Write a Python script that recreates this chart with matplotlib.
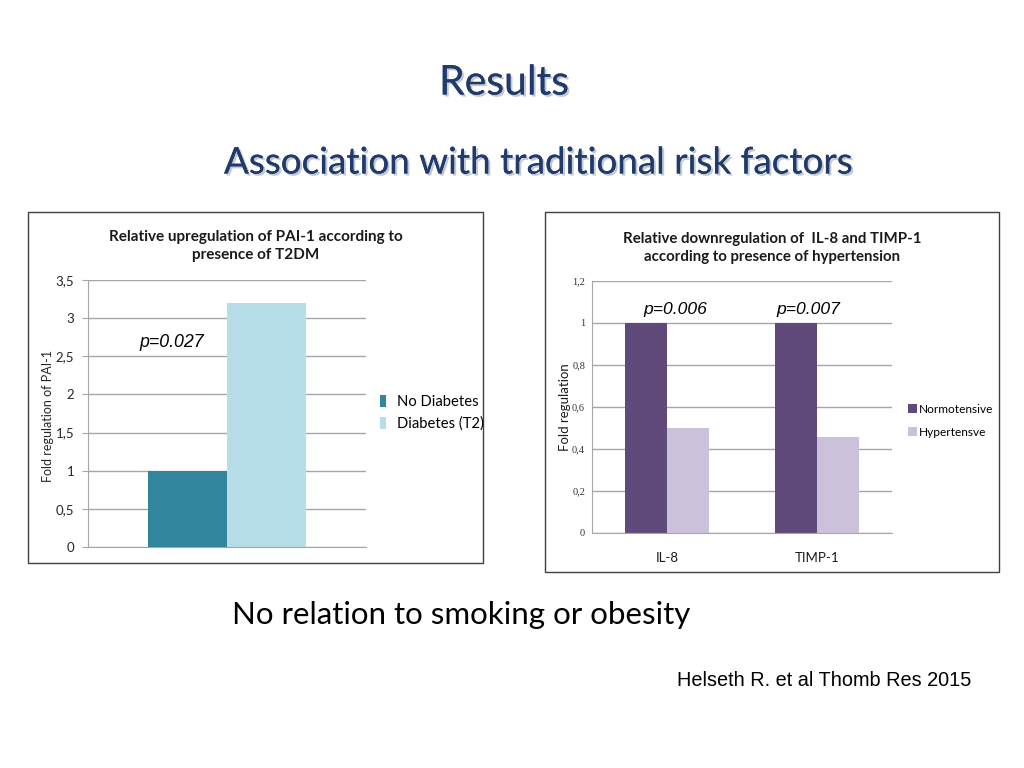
'''
Results slide: two bar charts of fold regulation
'''

###########################################
import numpy as np
import matplotlib
matplotlib.use('Agg')
import matplotlib.pyplot as plt
import matplotlib.patheffects as pe
from matplotlib.patches import Rectangle, Patch


###########################################
# data

paiGroups=['No Diabetes','Diabetes (T2)']
paiVals=[1.0,3.2]
paiCols=['#31859C','#B7DEE8']
paiP='p=0.027'

htCats=['IL-8','TIMP-1']
htGroups=['Normotensive','Hypertensve']
htNorm=[1.0,1.0]
htHyper=[0.5,0.455]
htCols=['#604A7B','#CCC1DA']
htP=['p=0.006','p=0.007']

W,H=1024.,768.


###########################################
# pixel rect to figure fraction

def frac(x0,y0,x1,y1):
  return [x0/W,1-y1/H,(x1-x0)/W,(y1-y0)/H]


###########################################
# common axis styling

def styleAx(ax,ymax,step):
  for s in ['top','right']:
    ax.spines[s].set_visible(False)
  for s in ['left','bottom']:
    ax.spines[s].set_color('#A6A6A6')
  ax.set_ylim(0,ymax)
  ax.set_yticks(np.arange(0,ymax+step/2,step))
  ax.yaxis.grid(True,color='#A6A6A6',lw=1)
  ax.set_axisbelow(True)
  ax.tick_params(axis='y',length=4,color='#A6A6A6',pad=6)
  ax.tick_params(axis='x',length=0)


###########################################
# the main block

if __name__ == '__main__':
  fig=plt.figure(figsize=(10.24,7.68),dpi=100)
  fig.patch.set_facecolor('white')

  # slide titles
  shadow=[pe.withSimplePatchShadow(offset=(1.5,-1.5),shadow_rgbFace='#9aa6b8',alpha=0.6),pe.Normal()]
  fig.text(504/W,1-83/H,'Results',ha='center',va='center',fontsize=29.5,family='Lato',color='#1F3A6B',path_effects=shadow)
  fig.text(538/W,1-163/H,'Association with traditional risk factors',ha='center',va='center',fontsize=26.5,family='Lato',color='#1F3A6B',path_effects=shadow)
  fig.text(232/W,1-615/H,'No relation to smoking or obesity',ha='left',va='center',fontsize=22.5,family='Lato',color='black')
  fig.text(677/W,1-681/H,'Helseth R. et al Thomb Res 2015',ha='left',va='center',fontsize=14.3,family='Liberation Sans',color='black')

  # boxes round the charts
  fig.patches.append(Rectangle((28/W,1-563/H),455/W,351/H,transform=fig.transFigure,fill=False,edgecolor='#404040',lw=1))
  fig.patches.append(Rectangle((545/W,1-572/H),454/W,360/H,transform=fig.transFigure,fill=False,edgecolor='#404040',lw=1))

  ###########################################
  # left chart: PAI-1
  ax1=fig.add_axes(frac(88,280,366,547))
  styleAx(ax1,3.5,0.5)
  bw=0.284
  for i in range(len(paiVals)):
    ax1.bar((i-0.5)*bw,paiVals[i],width=bw,color=paiCols[i],label=paiGroups[i])
  ax1.set_xlim(-0.5,0.5)
  ax1.set_xticks([])
  ax1.set_yticklabels([('%g'%v).replace('.',',') for v in np.arange(0,3.75,0.5)],fontsize=9.5,family='Lato',color='#262626')
  ax1.set_ylabel('Fold regulation of PAI-1',fontsize=9,family='Lato',color='#262626')
  ax1.yaxis.set_label_coords(-0.122,0.49)
  ax1.text(-0.2,2.68,paiP,ha='center',va='center',fontsize=12.8,style='italic',family='Liberation Sans')
  fig.text(256/W,1-246/H,'Relative upregulation of PAI-1 according to\npresence of T2DM',ha='center',va='center',fontsize=11,weight='bold',family='Lato',linespacing=1.4,color='#1a1a1a')
  h1=[Patch(facecolor=c,edgecolor='none') for c in paiCols]
  fig.legend(h1,paiGroups,loc='center left',bbox_to_anchor=(373/W,1-413/H),frameon=False,prop={'family':'Lato','size':10.6},handlelength=0.35,handleheight=0.9,handletextpad=0.75,labelspacing=0.5,borderpad=0)

  ###########################################
  # right chart: IL-8 and TIMP-1
  ax2=fig.add_axes(frac(592,281,892,533))
  styleAx(ax2,1.2,0.2)
  ax2.tick_params(axis='y',length=0,pad=5)
  x=np.arange(len(htCats))
  bw=0.28
  ax2.bar(x-bw/2,htNorm,width=bw,color=htCols[0],label=htGroups[0])
  ax2.bar(x+bw/2,htHyper,width=bw,color=htCols[1],label=htGroups[1])
  ax2.set_xlim(-0.5,1.5)
  ax2.set_xticks(x)
  ax2.set_xticklabels(htCats,fontsize=9.5,family='Lato',color='#1a1a1a')
  ax2.tick_params(axis='x',pad=14)
  ax2.set_yticklabels([('%g'%round(v,1)).replace('.',',') for v in np.arange(0,1.3,0.2)],fontsize=7.5,family='Liberation Serif',color='#333333')
  ax2.set_ylabel('Fold regulation',fontsize=9.5,family='Lato',color='#1a1a1a')
  ax2.yaxis.set_label_coords(-0.071,0.5)
  pOff=[0.055,-0.06]
  for i in range(len(htCats)):
    ax2.text(x[i]+pOff[i],1.062,htP[i],ha='center',va='center',fontsize=12.6,style='italic',family='Liberation Sans')
  fig.text(772/W,1-248/H,'Relative downregulation of  IL-8 and TIMP-1\naccording to presence of hypertension',ha='center',va='center',fontsize=10.8,weight='bold',family='Lato',linespacing=1.4,color='#1a1a1a')
  h2=[Patch(facecolor=c,edgecolor='none') for c in htCols]
  fig.legend(h2,htGroups,loc='center left',bbox_to_anchor=(902/W,1-421/H),frameon=False,prop={'family':'Lato','size':8.6},handlelength=0.75,handleheight=0.75,handletextpad=0.15,labelspacing=1.0,borderpad=0)

  fig.savefig('out.png',dpi=100,facecolor='white')
  plt.close()
